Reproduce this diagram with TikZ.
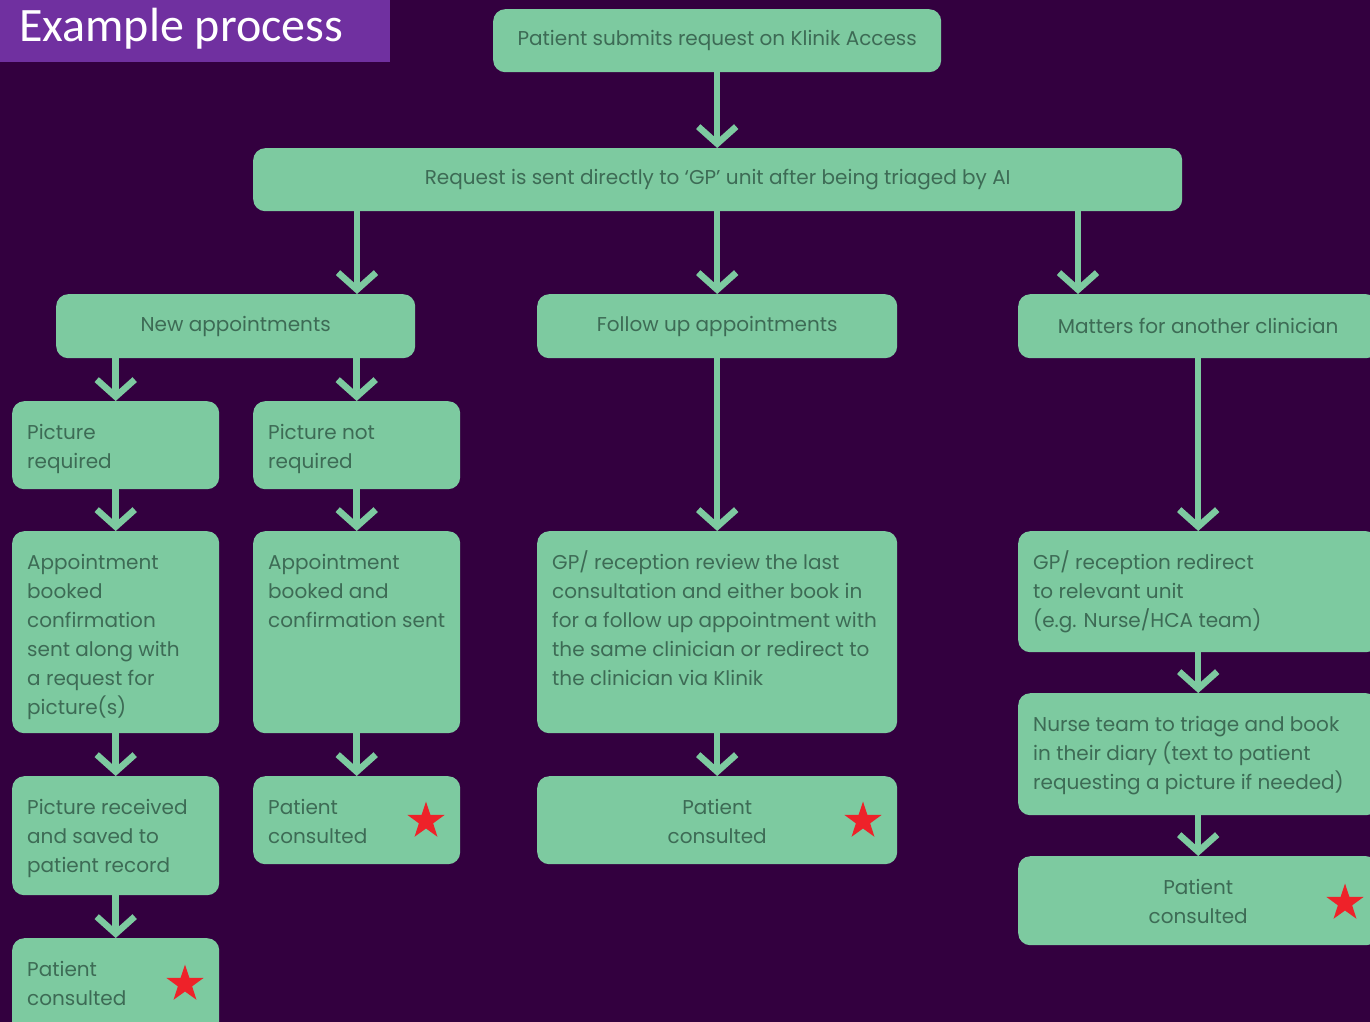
\documentclass[tikz,border=0pt]{standalone}
\usepackage{fontspec}
\setmainfont{Poppins}
\newfontfamily\titlefont{Carlito}
\usetikzlibrary{arrows.meta,shapes.geometric}

\definecolor{bgpurple}{HTML}{33003F}
\definecolor{titlepurple}{HTML}{7030A0}
\definecolor{boxgreen}{HTML}{7DCAA0}
\definecolor{boxtext}{HTML}{3D6B55}
\definecolor{starred}{HTML}{EE2229}

% lines hung from the baseline of the first one
\newcommand{\leftlines}[1]{\begin{tabular}[t]{@{}l@{}}#1\end{tabular}}
\newcommand{\midlines}[1]{\begin{tabular}[t]{@{}c@{}}#1\end{tabular}}

\begin{document}
\begin{tikzpicture}[x=1pt, y=-1pt,
    box/.style={fill=boxgreen, rounded corners=12pt, inner sep=0pt, anchor=north west},
    lbl/.style={text=boxtext, font=\fontsize{20}{29}\selectfont, inner sep=0pt},
    flow/.style={draw=boxgreen, line width=6.5pt, -{Straight Barb[length=17pt, width=38pt]}},
    redstar/.style={star, star points=5, star point ratio=2.6, fill=starred, minimum size=39pt, inner sep=0pt}
  ]
  \useasboundingbox (0,0) rectangle (1370,1022);
  \clip (0,0) rectangle (1370,1022);
  \fill[bgpurple] (0,0) rectangle (1370,1022);

  % title
  \node[fill=titlepurple, minimum width=390pt, minimum height=62pt, inner sep=0pt, anchor=north west] (bar) at (0,0) {};
  \node[anchor=base west, text=white, font=\titlefont\fontsize{48}{48}\selectfont, inner sep=0pt] (title) at (19,42) {Example process};

  % top of the flow
  \node[box, lbl, minimum width=448pt, minimum height=63pt] (a) at (493,9) {Patient submits request on Klinik Access};
  \node[box, lbl, minimum width=929pt, minimum height=63pt] (b) at (253,148) {Request is sent directly to `GP' unit after being triaged by AI};

  % three branches
  \node[box, lbl, minimum width=359pt, minimum height=64pt] (c) at (56,294) {New appointments};
  \node[box, lbl, minimum width=360pt, minimum height=64pt] (d) at (537,294) {Follow up appointments};
  \node[box, lbl, minimum width=360pt, minimum height=64pt] (e) at (1018,294) {Matters for another clinician};
  \coordinate (c-in) at (357,294);
  \coordinate (e-in) at (1078,294);

  % boxes with text at the top
  \node[box, minimum width=207pt, minimum height=88pt] (f) at (12,401) {};
  \node[box, minimum width=207pt, minimum height=88pt] (g) at (253,401) {};
  \node[box, minimum width=207pt, minimum height=202pt] (h) at (12,531) {};
  \node[box, minimum width=207pt, minimum height=202pt] (i) at (253,531) {};
  \node[box, minimum width=360pt, minimum height=202pt] (j) at (537,531) {};
  \node[box, minimum width=360pt, minimum height=121pt] (k) at (1018,531) {};
  \node[box, minimum width=360pt, minimum height=122pt] (l) at (1018,693) {};
  \node[box, minimum width=360pt, minimum height=89pt] (m) at (1018,856) {};
  \node[box, minimum width=207pt, minimum height=119pt] (n) at (12,776) {};
  \node[box, minimum width=207pt, minimum height=88pt] (o) at (253,776) {};
  \node[box, minimum width=360pt, minimum height=88pt] (p) at (537,776) {};
  \node[box, minimum width=207pt, minimum height=100pt] (q) at (12,938) {};

  \node[lbl, anchor=base west] (f-txt) at ([shift={(15,38)}]f.north west) {\leftlines{Picture\\required}};
  \node[lbl, anchor=base west] (g-txt) at ([shift={(15,38)}]g.north west) {\leftlines{Picture not\\required}};
  \node[lbl, anchor=base west] (h-txt) at ([shift={(15,38)}]h.north west) {\leftlines{Appointment\\booked\\confirmation\\sent along with\\a request for\\picture(s)}};
  \node[lbl, anchor=base west] (i-txt) at ([shift={(15,38)}]i.north west) {\leftlines{Appointment\\booked and\\confirmation sent}};
  \node[lbl, anchor=base west] (j-txt) at ([shift={(15,38)}]j.north west) {\leftlines{GP/ reception review the last\\consultation and either book in\\for a follow up appointment with\\the same clinician or redirect to\\the clinician via Klinik}};
  \node[lbl, anchor=base west] (k-txt) at ([shift={(15,38)}]k.north west) {\leftlines{GP/ reception redirect\\to relevant unit\\(e.g. Nurse/HCA team)}};
  \node[lbl, anchor=base west] (l-txt) at ([shift={(15,38)}]l.north west) {\leftlines{Nurse team to triage and book\\in their diary (text to patient\\requesting a picture if needed)}};
  \node[lbl, anchor=base] (m-txt) at ([shift={(0,38)}]m.north) {\midlines{Patient\\consulted}};
  \node[lbl, anchor=base west] (n-txt) at ([shift={(15,38)}]n.north west) {\leftlines{Picture received\\and saved to\\patient record}};
  \node[lbl, anchor=base west] (o-txt) at ([shift={(15,38)}]o.north west) {\leftlines{Patient\\consulted}};
  \node[lbl, anchor=base] (p-txt) at ([shift={(0,38)}]p.north) {\midlines{Patient\\consulted}};
  \node[lbl, anchor=base west] (q-txt) at ([shift={(15,38)}]q.north west) {\leftlines{Patient\\consulted}};

  % stars
  \node[redstar] (o-star) at (426,821) {};
  \node[redstar] (p-star) at (863,821) {};
  \node[redstar] (m-star) at (1345,903) {};
  \node[redstar] (q-star) at (185,984) {};

  % arrows
  \draw[flow] (a.south) -- (a.south |- b.north);
  \draw[flow] (b.south -| c-in) -- (c-in);
  \draw[flow] (b.south -| d.north) -- (d.north);
  \draw[flow] (b.south -| e-in) -- (e-in);
  \draw[flow] (c.south -| f.north) -- (f.north);
  \draw[flow] (c.south -| g.north) -- (g.north);
  \draw[flow] (f.south) -- (h.north);
  \draw[flow] (g.south) -- (i.north);
  \draw[flow] (d.south) -- (j.north);
  \draw[flow] (e.south) -- (k.north);
  \draw[flow] (k.south) -- (l.north);
  \draw[flow] (l.south) -- (m.north);
  \draw[flow] (h.south) -- (n.north);
  \draw[flow] (i.south) -- (o.north);
  \draw[flow] (j.south) -- (p.north);
  \draw[flow] (n.south) -- (q.north);
\end{tikzpicture}
\end{document}
